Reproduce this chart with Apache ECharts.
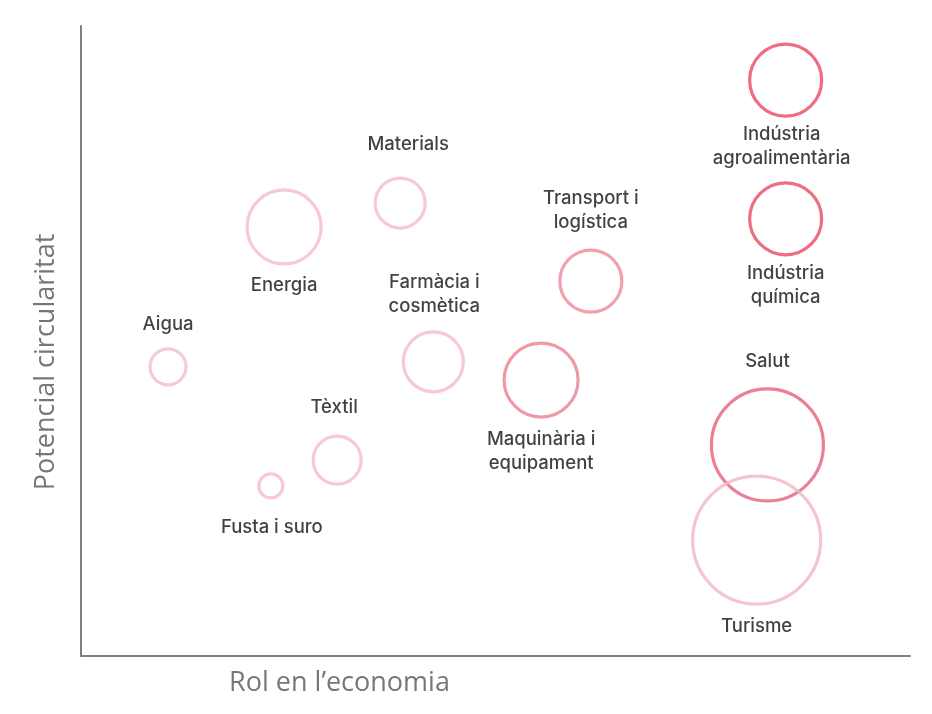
<!DOCTYPE html>
<html>
<head>
<meta charset="utf-8">
<title>Potencial circularitat</title>
<script src="https://cdn.jsdelivr.net/npm/echarts@6/dist/echarts.min.js"></script>
<style>
  html, body { margin: 0; padding: 0; background: #fff; }
  #main { width: 932px; height: 714px; }
</style>
</head>
<body>
<div id="main"></div>
<script>
// sectors and their position (rol en l'economia, potencial circularitat) + bubble size
var sectors = ['Indústria\nagroalimentària', 'Indústria\nquímica', 'Salut', 'Turisme',
  'Maquinària i\nequipament', 'Transport i\nlogística', 'Farmàcia i\ncosmètica', 'Materials',
  'Energia', 'Aigua', 'Tèxtil', 'Fusta i suro'];
var rolEconomia = [85.0, 85.0, 82.8, 81.5, 55.5, 61.5, 42.5, 38.5, 24.5, 10.5, 30.9, 22.9];
var potencialCirc = [91.4, 69.4, 33.5, 18.4, 43.8, 59.5, 46.7, 71.9, 68.1, 45.9, 31.1, 27.0];
var pes = [36, 36, 56, 64, 37, 31, 30, 25, 37, 18, 24, 12];

// how each bubble looks
var colors = ['#e84a60', '#e84a60', '#e3607a', '#f3b7c0', '#ea7f90', '#ec8a98',
  '#f6bcc4', '#f6bcc4', '#f6bcc4', '#f6bcc4', '#f6bcc4', '#f6bcc4'];
var labelPos = ['bottom', 'bottom', 'top', 'bottom', 'bottom', 'top', 'top', 'top', 'bottom', 'top', 'top', 'bottom'];
var labelGap = [5, 5, 14, 9, 9, 14, 12, 20, 8, 11, 15, 16];
var labelShift = [[-4, 0], [0, 0], [0, 0], [0, 0], [0, 0], [0, 0], [1, 0], [8, 0], [0, 0], [0, 0], [-3, 0], [1, 0]];

var chart = echarts.init(document.getElementById('main'));

var points = sectors.map(function (name, i) {
  return {
    name: name,
    value: [rolEconomia[i], potencialCirc[i], pes[i]],
    itemStyle: { color: 'rgba(255,255,255,0)', borderColor: colors[i], borderWidth: 3.2 },
    label: { position: labelPos[i], distance: labelGap[i], offset: labelShift[i] }
  };
});

var option = {
  animation: false,
  grid: { left: 81, right: 22, top: 26, bottom: 58 },
  xAxis: {
    type: 'value', min: 0, max: 100,
    name: 'Rol en l’economia',
    nameLocation: 'middle',
    nameGap: 14,
    nameTextStyle: { color: '#777777', fontSize: 27, fontFamily: 'Open Sans', padding: [0, 312, 0, 0], verticalAlign: 'top' },
    axisLine: { show: true, lineStyle: { color: '#808080', width: 2 } },
    axisTick: { show: false },
    axisLabel: { show: false },
    splitLine: { show: false }
  },
  yAxis: {
    type: 'value', min: 0, max: 100,
    name: 'Potencial circularitat',
    nameLocation: 'middle',
    nameGap: 21,
    nameTextStyle: { color: '#777777', fontSize: 27, fontFamily: 'Open Sans', padding: [0, 42, 0, 0] },
    axisLine: { show: true, lineStyle: { color: '#808080', width: 2 } },
    axisTick: { show: false },
    axisLabel: { show: false },
    splitLine: { show: false }
  },
  series: [{
    type: 'scatter',
    symbol: 'circle',
    symbolSize: function (val) { return val[2] * 2; },
    data: points,
    label: {
      show: true,
      formatter: '{b}',
      color: '#111111',
      fontSize: 18.5,
      fontWeight: 500,
      lineHeight: 24,
      fontFamily: 'Inter',
      align: 'center'
    },
    emphasis: { disabled: true }
  }]
};

chart.setOption(option);
</script>
</body>
</html>
